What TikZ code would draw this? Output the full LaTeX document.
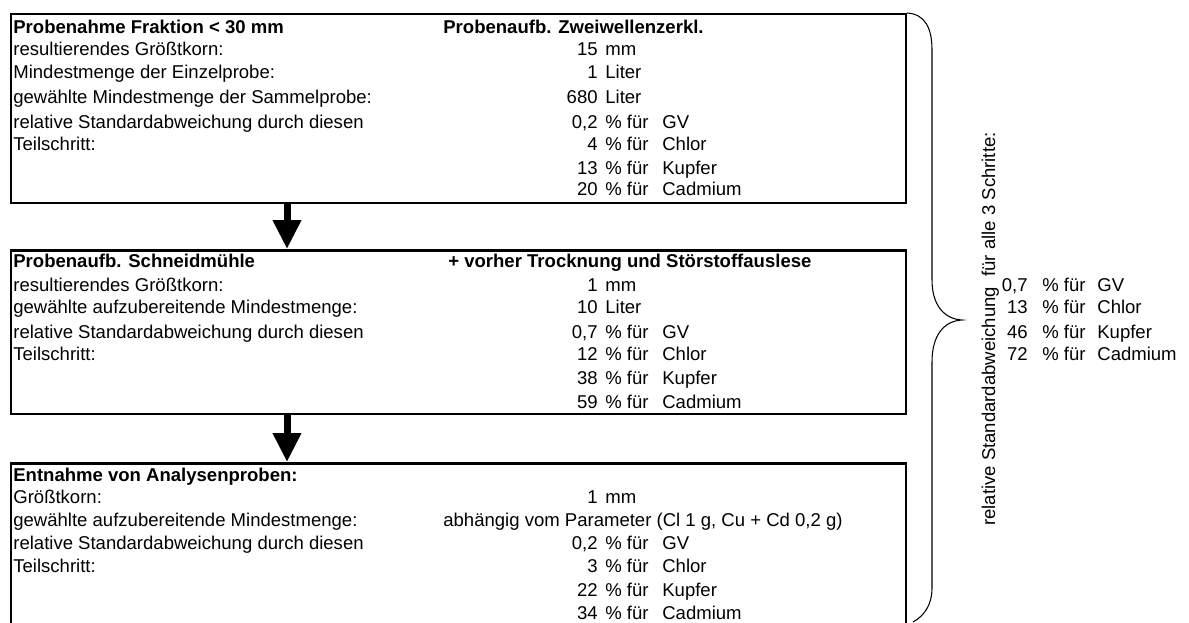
\documentclass[tikz,border=0pt]{standalone}
\usepackage{fontspec}
\setmainfont{Liberation Sans}
\usetikzlibrary{calc}
\usetikzlibrary{arrows.meta}

\begin{document}
\begin{tikzpicture}[x=0.02cm, y=-0.02cm,
    font=\fontsize{10.55}{12}\selectfont,
    box/.style={draw, line width=0.05cm, anchor=north west, minimum width=17.9cm, inner sep=0pt},
    txt/.style={anchor=base west, inner sep=0pt},
    hd/.style={txt, font=\fontsize{10.55}{12}\selectfont\bfseries},
    val/.style={anchor=base east, inner sep=0pt},
    rot/.style={rotate=90, anchor=base, inner sep=0pt},
    flow/.style={line width=0.14cm, -{Triangle[width=0.54cm,length=0.58cm]}}
    ]
\useasboundingbox (0,0) rectangle (1189,622);
% box 1
\node[box, minimum height=3.78cm] at (10,13) (BOX1) {};
\node[hd] at (13,33) (B1L1) {Probenahme Fraktion < 30 mm};
\node[hd] at (443,33) (B1H1) {Probenaufb. Zweiwellenzerkl.};
\node[txt] at (13,55) (B1L2) {resultierendes Größtkorn:};
\node[val] at (598,55) (B1N2) {15};
\node[txt] at (605,55) (B1U2) {mm};
\node[txt] at (13,78) (B1L3) {Mindestmenge der Einzelprobe:};
\node[val] at (598,78) (B1N3) {1};
\node[txt] at (605,78) (B1U3) {Liter};
\node[txt] at (13,103) (B1L4) {gewählte Mindestmenge der Sammelprobe:};
\node[val] at (598,103) (B1N4) {680};
\node[txt] at (605,103) (B1U4) {Liter};
\node[txt] at (13,128) (B1L5) {relative Standardabweichung durch diesen};
\node[val] at (598,128) (B1N5) {0,2};
\node[txt] at (605,128) (B1U5) {\% für};
\node[txt] at (662,128) (B1E5) {GV};
\node[txt] at (13,150) (B1L6) {Teilschritt:};
\node[val] at (598,150) (B1N6) {4};
\node[txt] at (605,150) (B1U6) {\% für};
\node[txt] at (662,150) (B1E6) {Chlor};
\node[val] at (598,174) (B1N7) {13};
\node[txt] at (605,174) (B1U7) {\% für};
\node[txt] at (662,174) (B1E7) {Kupfer};
\node[val] at (598,195) (B1N8) {20};
\node[txt] at (605,195) (B1U8) {\% für};
\node[txt] at (662,195) (B1E8) {Cadmium};
% box 2
\node[box, minimum height=3.28cm] at (10,249) (BOX2) {};
\node[hd] at (13,267) (B2L1) {Probenaufb. Schneidmühle};
\node[hd] at (448,267) (B2H1) {+ vorher Trocknung und Störstoffauslese};
\node[txt] at (13,291) (B2L2) {resultierendes Größtkorn:};
\node[val] at (598,291) (B2N2) {1};
\node[txt] at (605,291) (B2U2) {mm};
\node[txt] at (13,313) (B2L3) {gewählte aufzubereitende Mindestmenge:};
\node[val] at (598,313) (B2N3) {10};
\node[txt] at (605,313) (B2U3) {Liter};
\node[txt] at (13,338) (B2L4) {relative Standardabweichung durch diesen};
\node[val] at (598,338) (B2N4) {0,7};
\node[txt] at (605,338) (B2U4) {\% für};
\node[txt] at (662,338) (B2E4) {GV};
\node[txt] at (13,360) (B2L5) {Teilschritt:};
\node[val] at (598,360) (B2N5) {12};
\node[txt] at (605,360) (B2U5) {\% für};
\node[txt] at (662,360) (B2E5) {Chlor};
\node[val] at (598,384) (B2N6) {38};
\node[txt] at (605,384) (B2U6) {\% für};
\node[txt] at (662,384) (B2E6) {Kupfer};
\node[val] at (598,408) (B2N7) {59};
\node[txt] at (605,408) (B2U7) {\% für};
\node[txt] at (662,408) (B2E7) {Cadmium};
% box 3
\node[box, minimum height=3.28cm] at (10,462) (BOX3) {};
\node[hd] at (13,481) (B3L1) {Entnahme von Analysenproben:};
\node[txt] at (13,503) (B3L2) {Größtkorn:};
\node[val] at (598,503) (B3N2) {1};
\node[txt] at (605,503) (B3U2) {mm};
\node[txt] at (13,526) (B3L3) {gewählte aufzubereitende Mindestmenge:};
\node[txt] at (443,526) (B3H3) {abhängig vom Parameter (Cl 1 g, Cu + Cd 0,2 g)};
\node[txt] at (13,549) (B3L4) {relative Standardabweichung durch diesen};
\node[val] at (598,549) (B3N4) {0,2};
\node[txt] at (605,549) (B3U4) {\% für};
\node[txt] at (662,549) (B3E4) {GV};
\node[txt] at (13,572) (B3L5) {Teilschritt:};
\node[val] at (598,572) (B3N5) {3};
\node[txt] at (605,572) (B3U5) {\% für};
\node[txt] at (662,572) (B3E5) {Chlor};
\node[val] at (598,596) (B3N6) {22};
\node[txt] at (605,596) (B3U6) {\% für};
\node[txt] at (662,596) (B3E6) {Kupfer};
\node[val] at (598,619) (B3N7) {34};
\node[txt] at (605,619) (B3U7) {\% für};
\node[txt] at (662,619) (B3E7) {Cadmium};
% arrows
\draw[flow] ($(BOX1.south west)+(277,0)$) -- ($(BOX2.north west)+(277,0)$);
\draw[flow] ($(BOX2.south west)+(277,0)$) -- ($(BOX3.north west)+(277,0)$);
% brace and sum
\draw[line width=0.6pt] (907,13) .. controls (925,14) and (932,28) .. (932,50) -- (932,280)
    .. controls (932,305) and (944,319) .. (962,320)
    .. controls (944,321) and (932,335) .. (932,362) -- (932,588)
    .. controls (932,605) and (924,616) .. (913,622);
\node[rot] at (995,329) (SUM) {relative Standardabweichung\ \ für alle 3 Schritte:};
\node[val] at (1028,291) (S1N) {0,7};
\node[txt] at (1042,291) (S1U) {\% für};
\node[txt] at (1097,291) (S1E) {GV};
\node[val] at (1028,313) (S2N) {13};
\node[txt] at (1042,313) (S2U) {\% für};
\node[txt] at (1097,313) (S2E) {Chlor};
\node[val] at (1028,338) (S3N) {46};
\node[txt] at (1042,338) (S3U) {\% für};
\node[txt] at (1097,338) (S3E) {Kupfer};
\node[val] at (1028,360) (S4N) {72};
\node[txt] at (1042,360) (S4U) {\% für};
\node[txt] at (1097,360) (S4E) {Cadmium};
\end{tikzpicture}
\end{document}
